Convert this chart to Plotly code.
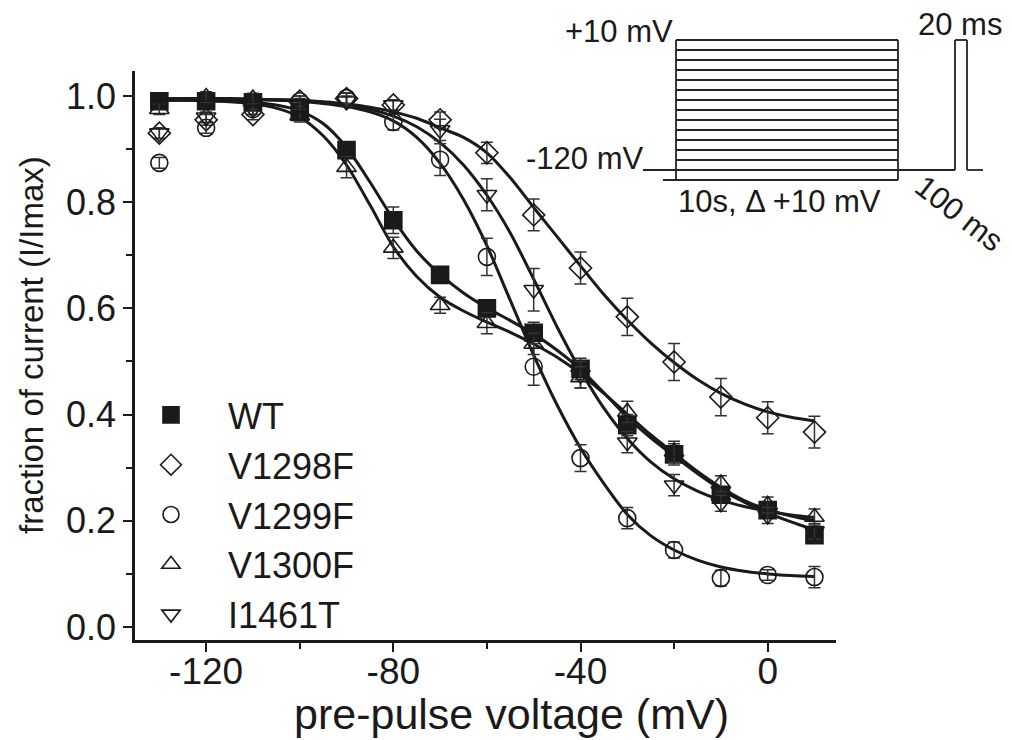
import plotly.graph_objects as go

# ---------------- data ----------------
V = [-130, -120, -110, -100, -90, -80, -70, -60, -50, -40, -30, -20, -10, 0, 10]

WT      = [0.990, 0.990, 0.988, 0.970, 0.898, 0.766, 0.663, 0.600, 0.554, 0.486, 0.380, 0.325, 0.249, 0.220, 0.173]
WT_err  = [0.008, 0.008, 0.008, 0.010, 0.012, 0.025, 0.015, 0.015, 0.020, 0.020, 0.020, 0.020, 0.015, 0.015, 0.015]
V1298F     = [0.930, 0.955, 0.965, 0.990, 0.995, 0.983, 0.955, 0.893, 0.776, 0.676, 0.584, 0.499, 0.433, 0.394, 0.367]
V1298F_err = [0.010, 0.010, 0.010, 0.010, 0.010, 0.010, 0.015, 0.020, 0.030, 0.030, 0.035, 0.035, 0.035, 0.030, 0.030]
V1299F     = [0.874, 0.940, 0.975, 0.990, 0.996, 0.951, 0.880, 0.697, 0.490, 0.318, 0.205, 0.145, 0.092, 0.098, 0.094]
V1299F_err = [0.010, 0.010, 0.010, 0.010, 0.010, 0.015, 0.030, 0.035, 0.035, 0.025, 0.020, 0.015, 0.015, 0.010, 0.020]
V1300F     = [0.975, 0.998, 0.995, 0.963, 0.866, 0.714, 0.606, 0.572, 0.533, 0.470, 0.405, 0.330, 0.270, 0.230, 0.207]
V1300F_err = [0.010, 0.010, 0.010, 0.012, 0.020, 0.020, 0.015, 0.020, 0.020, 0.020, 0.020, 0.020, 0.015, 0.015, 0.015]
I1461T     = [0.930, 0.960, 0.975, 0.985, 0.990, 0.983, 0.936, 0.814, 0.635, 0.475, 0.348, 0.267, 0.233, 0.210, 0.180]
I1461T_err = [0.010, 0.010, 0.010, 0.010, 0.010, 0.010, 0.020, 0.030, 0.040, 0.025, 0.020, 0.020, 0.015, 0.015, 0.015]

# fitted curves at 5 mV steps
V_fit = [-130, -125, -120, -115, -110, -105, -100, -95, -90, -85, -80, -75, -70, -65, -60,
         -55, -50, -45, -40, -35, -30, -25, -20, -15, -10, -5, 0, 5, 10]
WT_fit     = [0.992, 0.992, 0.991, 0.990, 0.988, 0.983, 0.972, 0.948, 0.903, 0.838, 0.768, 0.708, 0.664, 0.629, 0.601,
              0.577, 0.552, 0.521, 0.485, 0.441, 0.395, 0.356, 0.322, 0.289, 0.259, 0.235, 0.215, 0.198, 0.183]
V1298F_fit = [0.995, 0.995, 0.995, 0.995, 0.994, 0.993, 0.992, 0.989, 0.985, 0.979, 0.970, 0.958, 0.940, 0.922, 0.893,
              0.846, 0.790, 0.735, 0.680, 0.626, 0.578, 0.535, 0.498, 0.466, 0.440, 0.420, 0.405, 0.395, 0.388]
V1299F_fit = [0.995, 0.995, 0.995, 0.994, 0.993, 0.992, 0.990, 0.986, 0.980, 0.970, 0.953, 0.922, 0.873, 0.805, 0.718,
              0.615, 0.512, 0.418, 0.337, 0.270, 0.212, 0.172, 0.145, 0.126, 0.113, 0.105, 0.100, 0.097, 0.095]
V1300F_fit = [0.992, 0.992, 0.991, 0.989, 0.985, 0.977, 0.960, 0.925, 0.870, 0.795, 0.716, 0.660, 0.621, 0.595, 0.574,
              0.555, 0.533, 0.508, 0.477, 0.440, 0.401, 0.362, 0.327, 0.293, 0.263, 0.238, 0.221, 0.209, 0.200]
I1461T_fit = [0.995, 0.995, 0.995, 0.994, 0.994, 0.993, 0.991, 0.988, 0.983, 0.975, 0.962, 0.942, 0.912, 0.870, 0.813,
              0.742, 0.655, 0.565, 0.483, 0.412, 0.355, 0.311, 0.279, 0.256, 0.239, 0.227, 0.218, 0.211, 0.206]

names = ["WT", "V1298F", "V1299F", "V1300F", "I1461T"]
values = [WT, V1298F, V1299F, V1300F, I1461T]
errors = [WT_err, V1298F_err, V1299F_err, V1300F_err, I1461T_err]
fits = [WT_fit, V1298F_fit, V1299F_fit, V1300F_fit, I1461T_fit]
symbols = ["square", "diamond-open", "circle-open", "triangle-up-open", "triangle-down-open"]

x_ticks = [-120, -80, -40, 0]
y_ticks = [0.0, 0.2, 0.4, 0.6, 0.8, 1.0]

# ---------------- figure geometry ----------------
# the page body adds an 8 px margin; figure is sized so it fits the 1012x740 window
OFF = 8
W, H = 1012 - OFF, 740 - OFF
# plot area in window pixels: x 135..836, y 71..640
L, T = 135 - OFF, 71 - OFF
R, B = W - (836 - OFF), H - (640 - OFF)
PW, PH = W - L - R, H - T - B
def px(x):  # window pixel -> paper
    return (x - OFF - L) / PW
def py(y):
    return (H - B - (y - OFF)) / PH

SANS = "Liberation Sans, Arial, sans-serif"
INK = "#1a1a1a"

fig = go.Figure()

for f in fits:
    fig.add_trace(go.Scatter(x=V_fit, y=f, mode="lines", line=dict(color=INK, width=3, shape="spline", smoothing=0.8),
                             showlegend=False, hoverinfo="skip"))

for n, v, e, s in zip(names, values, errors, symbols):
    fig.add_trace(go.Scatter(
        x=V, y=v, mode="markers", name=n,
        marker=dict(symbol=s, size=17, color=INK, line=dict(color=INK, width=1.6)),
        error_y=dict(type="data", array=e, visible=True, color="#333", thickness=1.5, width=6),
    ))

# ---------------- inset: voltage protocol ----------------
line_style = dict(color="#222", width=1.8)
shapes = []
def hline(x0, x1, y):
    shapes.append(dict(type="line", xref="paper", yref="paper", x0=px(x0), x1=px(x1), y0=py(y), y1=py(y), line=line_style))
def vline(x, y0, y1):
    shapes.append(dict(type="line", xref="paper", yref="paper", x0=px(x), x1=px(x), y0=py(y0), y1=py(y1), line=line_style))

box_l, box_r = 676, 898
for v in V:
    yy = 170 - (v + 120)
    hline(663 if v == V[0] else box_l, box_r, yy)
vline(box_l, 40, 180)
vline(box_r, 40, 180)
hline(643, box_l, 170)
hline(box_r, 955, 170)
vline(955, 170, 40)
hline(955, 967, 40)
vline(967, 40, 170)
hline(967, 983, 170)

inset_font = dict(family=SANS, size=31, color=INK)
annotations = [
    dict(text="+10 mV", x=px(675), y=py(31), xanchor="right", yanchor="middle"),
    dict(text="-120 mV", x=px(645), y=py(158), xanchor="right", yanchor="middle"),
    dict(text="20 ms", x=px(916), y=py(24), xanchor="left", yanchor="middle"),
    dict(text="10s, \u0394 +10 mV", x=px(676), y=py(201), xanchor="left", yanchor="middle"),
    dict(text="100 ms", x=px(959), y=py(214), xanchor="center", yanchor="middle", textangle=38),
]
for a in annotations:
    a.update(xref="paper", yref="paper", showarrow=False, font=inset_font)

# axis titles
annotations.append(dict(text="pre-pulse voltage (mV)", xref="paper", yref="paper", x=px(511), y=py(714),
                        xanchor="center", yanchor="middle", showarrow=False,
                        font=dict(family=SANS, size=43, color=INK)))
annotations.append(dict(text="fraction of current (I/Imax)", xref="paper", yref="paper", x=px(31), y=py(345),
                        xanchor="center", yanchor="middle", showarrow=False, textangle=-90,
                        font=dict(family=SANS, size=33, color=INK)))

fig.update_layout(
    width=W, height=H,
    margin=dict(l=L, r=R, t=T, b=B, pad=0),
    paper_bgcolor="white", plot_bgcolor="white",
    shapes=shapes, annotations=annotations,
    showlegend=True,
    legend=dict(x=px(114), y=py(385), xanchor="left", yanchor="top", itemwidth=104,
                bgcolor="rgba(0,0,0,0)", font=dict(family=SANS, size=36, color=INK), tracegroupgap=0),
)
fig.update_xaxes(range=[-135.2, 14.6], tickvals=x_ticks, ticktext=[str(t) for t in x_ticks],
                 showline=True, linecolor=INK, linewidth=2.5, mirror=False, showgrid=False, zeroline=False,
                 ticks="outside", ticklen=9, tickwidth=2, tickcolor=INK, ticklabelstandoff=-12,
                 tickfont=dict(family=SANS, size=37, color=INK),
                 minor=dict(tickvals=[-100, -60, -20], ticks="outside", ticklen=6, tickwidth=2, tickcolor=INK))
fig.update_yaxes(range=[-0.0245, 1.047], tickvals=y_ticks, ticktext=["%.1f" % t for t in y_ticks],
                 showline=True, linecolor=INK, linewidth=2.5, mirror=False, showgrid=False, zeroline=False,
                 ticks="outside", ticklen=9, tickwidth=2, tickcolor=INK,
                 tickfont=dict(family=SANS, size=36, color=INK),
                 minor=dict(tickvals=[0.1, 0.3, 0.5, 0.7, 0.9], ticks="outside", ticklen=6, tickwidth=2, tickcolor=INK))

fig.write_html("out.html")
